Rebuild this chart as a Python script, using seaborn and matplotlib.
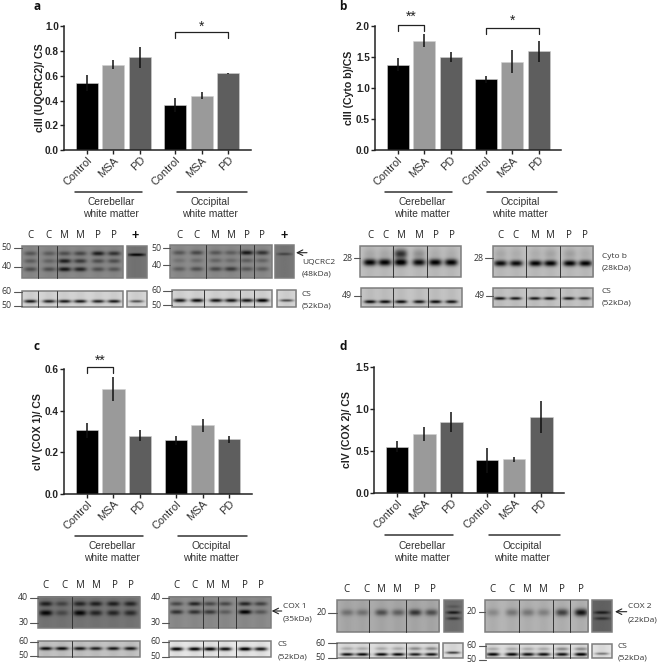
import numpy as np
import pandas as pd
import matplotlib
matplotlib.use('Agg')
import matplotlib.pyplot as plt
import matplotlib.transforms as mtrans
import seaborn as sns

W, H = 658, 664

# bar values
groups = ['Control', 'MSA', 'PD']
bar_pos = [0, 1, 2, 3.33, 4.33, 5.33]
tick_names = groups + groups
colors = ['#000000', '#9a9a9a', '#5e5e5e']

a_vals = [0.54, 0.69, 0.75, 0.365, 0.44, 0.62]
a_err = [0.065, 0.035, 0.085, 0.055, 0.03, 0.005]
b_vals = [1.38, 1.77, 1.51, 1.14, 1.43, 1.60]
b_err = [0.10, 0.10, 0.08, 0.06, 0.18, 0.17]
c_vals = [0.305, 0.505, 0.28, 0.258, 0.33, 0.262]
c_err = [0.037, 0.06, 0.027, 0.022, 0.03, 0.018]
d_vals = [0.55, 0.70, 0.84, 0.385, 0.40, 0.90]
d_err = [0.06, 0.08, 0.12, 0.15, 0.03, 0.19]

# band strength per lane, one row per band
a_gel_l = [[.35, .3, .4, .45, .75, .6], [.3, .25, .75, .55, .4, .4], [.4, .4, .8, .7, .4, .35]]
a_gel_r = [[.35, .45, .35, .3, .8, .6], [.15, .2, .25, .2, .3, .25], [.3, .4, .45, .55, .35, .3]]
a_cs_l = [.85, .8, .85, .85, .8, .85]
a_cs_r = [.85, .9, .85, .85, .85, .98]
b_gel_l = [.95, .95, 1.0, .9, .95, .95]
b_gel_l_smear = [.08, .08, .7, .2, .05, .05]
b_gel_r = [.9, .9, .95, .95, .95, .95]
b_gel_r_smear = [.08, .05, .05, .1, .12, .05]
b_cs_l = [.9, .9, .9, .85, .9, .85]
b_cs_r = [.9, .85, .85, .9, .85, .75]
c_gel_l = [[.7, .4, .65, .7, .7, .65], [.9, .35, .9, .65, .65, .6]]
c_gel_r = [[.45, .7, .45, .45, .7, .5], [.6, .6, .55, .3, .95, .35]]
c_cs_l = [.9, .9, .85, .8, .85, .85]
c_cs_r = [.95, .95, .95, .9, 1.0, .85]
d_gel_l = [.3, .3, .5, .4, .65, .5]
d_gel_r = [.2, .3, .3, .25, .6, .85]
d_cs_l = [.9, .95, .95, .95, .85, .9]
d_cs_r = [.95, .95, .9, .9, .9, 1.0]
d_cs_top = [.2, .2, .2, .2, .35, .35]

sns.set_style('ticks')
plt.rcParams['font.family'] = ['Liberation Sans', 'DejaVu Sans']
fig = plt.figure(figsize=(W / 100, H / 100), dpi=100)

# Prism puts the shorter rotated names further from the axis
name_shift = {'Control': (3, -1), 'MSA': (2, -5), 'PD': (0, -8)}


def bar_panel(vals, errs, ymax, yticks, ylabel, box, label_x, brackets=()):
    left, right, top, bottom = box
    ax = fig.add_axes([left / W, 1 - bottom / H, (right - left) / W, (bottom - top) / H])
    df = pd.DataFrame({'pos': bar_pos, 'value': vals, 'group': tick_names})
    sns.barplot(data=df, x='pos', y='value', hue='group', hue_order=groups, palette=colors,
                native_scale=True, dodge=False, width=0.83, legend=False, ax=ax,
                edgecolor='#d0d0d0', linewidth=0.4)
    ax.errorbar(bar_pos, vals, yerr=errs, fmt='none', ecolor='#111111', elinewidth=1.1, capsize=0)
    ax.set_xlim(-0.85, 6.17)
    ax.set_ylim(0, ymax)
    ax.set_xticks(bar_pos)
    ax.set_xticklabels(tick_names, rotation=45, ha='right', va='top', rotation_mode='anchor',
                       fontsize=7.9, color='#333333')
    for lab in ax.get_xticklabels():
        dx, dy = name_shift[lab.get_text()]
        lab.set_transform(lab.get_transform() + mtrans.Affine2D().translate(dx, dy))
    ax.set_yticks(yticks)
    ax.set_yticklabels([f'{t:.1f}' for t in yticks], fontsize=7.2, fontweight='bold', color='#222222')
    ax.set_xlabel('')
    ax.set_ylabel(ylabel, fontsize=7.6, fontweight='bold', color='#222222', va='center')
    ax.yaxis.set_label_coords((label_x - left) / (right - left), 0.5)
    ax.tick_params(axis='both', length=2.8, width=1.0, color='#222222', pad=0.8)
    sns.despine(ax=ax)
    for s in ['left', 'bottom']:
        ax.spines[s].set_linewidth(1.1)
        ax.spines[s].set_color('#222222')
    for i, j, y_top, drop, stars, star_y in brackets:
        ax.plot([bar_pos[i], bar_pos[i], bar_pos[j], bar_pos[j]], [y_top - drop, y_top, y_top, y_top - drop],
                color='#222222', lw=0.9, clip_on=False)
        ax.text((bar_pos[i] + bar_pos[j]) / 2, star_y, stars, ha='center', va='center', fontsize=10,
                color='#222222', clip_on=False)
    return ax


bar_panel(a_vals, a_err, 1.0, [0, .2, .4, .6, .8, 1.0], 'cIII (UQCRC2)/ CS', (64, 250.7, 26.3, 150), 40,
          [(3, 5, 0.952, 0.045, '*', 1.0)])
bar_panel(b_vals, b_err, 2.0, [0, .5, 1, 1.5, 2.0], 'cIII (Cyto b)/CS', (375, 561, 26.3, 150), 349,
          [(0, 1, 2.02, 0.09, '**', 2.15), (3, 5, 1.97, 0.09, '*', 2.09)])
bar_panel(c_vals, c_err, 0.6, [0, .2, .4, .6], 'cIV (COX 1)/ CS', (64, 251.7, 369.3, 493.7), 38,
          [(0, 1, 0.61, 0.027, '**', 0.64)])
bar_panel(d_vals, d_err, 1.5, [0, .5, 1, 1.5], 'cIV (COX 2)/ CS', (374.3, 564, 366.7, 492.7), 347)

# overlay in picture pixels for gels and labels
ov = fig.add_axes([0, 0, 1, 1], facecolor='none')
ov.set_xlim(0, W)
ov.set_ylim(H, 0)
ov.axis('off')


def blot(box, lanes, rows, strengths, bg, seps=(), hw=6.5, edge='#7d7d7d', haze=0.06):
    x0, x1, y0, y1 = box
    xs = np.linspace(x0, x1, int((x1 - x0) * 2))
    ys = np.linspace(y0, y1, int((y1 - y0) * 2))
    xx, yy = np.meshgrid(xs, ys)
    dark = np.zeros_like(xx)
    for lx in lanes:
        dark += haze * np.exp(-((xx - lx) / hw) ** 2)
    for (frac, sig), row in zip(rows, strengths):
        yc = y0 + frac * (y1 - y0)
        for lx, st in zip(lanes, row):
            dark += st * np.exp(-np.abs((xx - lx) / hw) ** 3) * np.exp(-((yy - yc) / sig) ** 2)
    img = np.clip(bg * (1 - np.clip(dark, 0, 1)), 0, 1)
    ov.imshow(img, extent=(x0, x1, y1, y0), cmap='gray', vmin=0, vmax=1, aspect='auto',
              interpolation='bilinear', zorder=1)
    ov.add_patch(plt.Rectangle((x0, y0), x1 - x0, y1 - y0, fill=False, ec=edge, lw=1.1, zorder=2))
    for s in seps:
        ov.plot([s, s], [y0, y1], color='#333333', lw=0.7, zorder=3)
    ov.set_xlim(0, W)
    ov.set_ylim(H, 0)


def lane_labels(xs, y, names):
    for x, n in zip(xs, names):
        ov.text(x, y, n, ha='center', va='center', fontsize=7, family='Open Sans', color='#222222')


def mw(x_text, x_tick0, x_tick1, y, s):
    ov.text(x_text, y, s, ha='center', va='center', fontsize=6.3, family='Open Sans', color='#333333')
    ov.plot([x_tick0, x_tick1], [y, y], color='#555555', lw=0.8)


def side(x, y, s, size=6):
    ov.text(x, y, s, ha='left', va='center', fontsize=size, family='Open Sans', color='#333333')


def arrow(x0, x1, y):
    ov.annotate('', xy=(x0, y), xytext=(x1, y), arrowprops=dict(arrowstyle='->', color='#222222', lw=0.8,
                                                               shrinkA=0, shrinkB=0))


def group_labels(xa, xb, y_line, y1, y2, ca, cb):
    ov.plot(xa, [y_line, y_line], color='#333333', lw=1.1)
    ov.plot(xb, [y_line, y_line], color='#333333', lw=1.1)
    for c, t in [(ca, 'Cerebellar'), (cb, 'Occipital')]:
        ov.text(c, y1, t, ha='center', va='center', fontsize=7.4, color='#333333')
        ov.text(c, y2, 'white matter', ha='center', va='center', fontsize=7.4, color='#333333')


group_labels((74.7, 142), (177, 246.7), 191.7, 202, 214, 111, 210)
group_labels((385, 451.7), (487, 556.7), 191.7, 202, 214, 421.7, 520)
group_labels((74.7, 142.7), (177.7, 247.3), 535.7, 546, 557.7, 111.7, 210.7)
group_labels((385, 453.3), (489, 559.7), 535, 546, 557.7, 422.3, 522.3)

for x, y, t in [(37, 7, 'a'), (343, 7, 'b'), (37, 347, 'c'), (343, 347, 'd')]:
    ov.text(x, y, t, ha='center', va='center', fontsize=8.5, fontweight='bold', family='Open Sans', color='#111111')

names = ['C', 'C', 'M', 'M', 'P', 'P']

# panel a gels
lanes_al = [30, 48.7, 64.3, 80, 98, 114]
lanes_ar = [179.3, 196.7, 215.7, 231, 246.7, 262.3]
rows3 = [(.23, 2.2), (.47, 2.2), (.73, 2.2)]
lane_labels(lanes_al, 235.7, names)
lane_labels(lanes_ar, 235.7, names)
ov.text(135.5, 235.5, '+', ha='center', va='center', fontsize=9, fontweight='bold', color='#111111')
ov.text(284.5, 235.5, '+', ha='center', va='center', fontsize=9, fontweight='bold', color='#111111')
blot((21.7, 122.7, 246, 278), lanes_al, rows3, a_gel_l, .55, (37.7, 56.7))
blot((127, 146.7, 246, 278), [136.5], [(.27, 1.4)], [[.95]], .47, hw=9)
blot((21.7, 122.7, 290.7, 306.7), lanes_al, [(.65, 1.6)], [a_cs_l], .85, (37.7, 56.7))
blot((127, 146.7, 290.7, 306.7), [136.5], [(.65, 1.3)], [[.6]], .85, hw=7)
blot((170.3, 271.7, 245, 277.7), lanes_ar, rows3, a_gel_r, .56, (205.7, 239.7, 253.7))
blot((275.3, 294, 245, 277.7), [284.5], [(.27, 1.4)], [[.4]], .48, hw=8)
blot((171.7, 271.7, 290, 306.7), lanes_ar, [(.62, 1.8)], [a_cs_r], .85, (204.3, 239.7, 254))
blot((276.7, 296, 290, 306.7), [286], [(.62, 1.3)], [[.6]], .85, hw=7)
mw(7, 14, 21.7, 248, '50')
mw(7, 14, 21.7, 266.7, '40')
mw(7, 14, 21.7, 291.7, '60')
mw(7, 14, 21.7, 306, '50')
mw(156.7, 163, 170.3, 248.3, '50')
mw(156.7, 163, 170.3, 265, '40')
mw(156.7, 163, 171.7, 290.7, '60')
mw(156.7, 163, 171.7, 305.3, '50')
arrow(296, 307, 252.7)
side(302, 262.7, 'UQCRC2')
side(302, 274, '(48kDa)')
side(302, 294, 'CS')
side(302, 306, '(52kDa)')

# panel b gels
lanes_bl = [370, 385, 401, 419.3, 435.7, 451.7]
lanes_br = [500, 515.7, 535, 550, 569.3, 585]
lane_labels(lanes_bl, 235.7, names)
lane_labels(lanes_br, 235.7, names)
blot((360.3, 461.3, 245.7, 276.7), lanes_bl, [(.53, 3.4), (.25, 4.5)], [b_gel_l, b_gel_l_smear], .76, (393.3, 426.7), hw=6.5)
blot((492.7, 593.3, 245.7, 276.7), lanes_br, [(.56, 3.0), (.25, 4.5)], [b_gel_r, b_gel_r_smear], .76, (526.3, 559.7), hw=6.5)
blot((361, 462, 288.3, 306.7), lanes_bl, [(.73, 1.6)], [b_cs_l], .78, (393.3, 427.7), hw=6)
blot((493.3, 593.3, 288.3, 306.7), lanes_br, [(.55, 1.4)], [b_cs_r], .78, (526.3, 560), hw=6)
mw(347.3, 354, 360.3, 258.3, '28')
mw(479, 485, 492.7, 258.3, '28')
mw(347.3, 354, 361, 296, '49')
mw(480, 486, 493.3, 296, '49')
side(601.7, 256.7, 'Cyto b')
side(601.7, 267.7, '(28kDa)')
side(601.7, 291.7, 'CS')
side(601.7, 303.3, '(52kDa)')

# panel c gels
lanes_cl = [46, 62, 80, 96, 113.5, 130.7]
lanes_cr = [176.7, 194.7, 210, 225.3, 245, 260.7]
rows2 = [(.24, 2.4), (.53, 2.8)]
lane_labels([45.7, 64, 80, 96, 114.7, 130.7], 585.7, names)
lane_labels([176.7, 194.7, 210, 225.3, 245, 260.7], 586, names)
blot((38.3, 140, 596.7, 628.3), lanes_cl, rows2, c_gel_l, .47, (72,))
blot((169.3, 270.7, 596.7, 628.3), lanes_cr, [(.24, 2.0), (.5, 2.2)], c_gel_r, .56, (202.7, 218.3, 235.7))
blot((38.3, 140, 641, 656.7), lanes_cl, [(.47, 1.7)], [c_cs_l], .78, (71.7,))
blot((169.3, 270.7, 641, 656.7), lanes_cr, [(.5, 1.8)], [c_cs_r], .92, (202.7, 218.3, 235.7))
mw(23.3, 30, 38.3, 597.7, '40')
mw(23.3, 30, 38.3, 622.7, '30')
mw(23.3, 30, 38.3, 641.7, '60')
mw(23.3, 30, 38.3, 656, '50')
mw(155.7, 162, 169.3, 598, '40')
mw(155.7, 162, 169.3, 622.7, '30')
mw(155.7, 162, 169.3, 641.7, '60')
mw(155.7, 162, 169.3, 656.7, '50')
arrow(271.7, 281.7, 611)
side(282.7, 606, 'COX 1')
side(282.7, 618.7, '(35kDa)')
side(277.7, 645, 'CS')
side(277.7, 656.7, '(52kDa)')

# panel d gels
lanes_dl = [346.7, 362, 381, 397.7, 414.7, 431]
lanes_dr = [492.7, 511.7, 527.7, 543.3, 561.7, 580.7]
lane_labels([346.7, 366, 381, 397.7, 416.7, 432.7], 589, names)
lane_labels([492.7, 511.7, 527.7, 543.3, 561.7, 580.7], 589, names)
blot((336.7, 439.3, 600, 631.7), lanes_dl, [(.39, 3.2)], [d_gel_l], .68, (369.3, 405.7))
blot((444, 462.7, 600, 631.7), [453.3], [(.2, 1.5), (.39, 1.5), (.58, 1.5)], [[.2], [.75], [.5]], .45, hw=7)
blot((485, 588.3, 600, 631.7), lanes_dr, [(.39, 3.6)], [d_gel_r], .72, (519.3, 553.3, 570.3))
blot((592.3, 611.7, 600, 631.7), [602], [(.39, 1.5), (.58, 1.5)], [[.7], [.5]], .4, hw=8)
blot((336.7, 439.3, 643.3, 658.3), lanes_dl, [(.37, 1.6), (.77, 1.5)], [d_cs_top, d_cs_l], .88, (369.3, 405.7))
blot((443.3, 462.7, 643.3, 658.3), [453], [(.65, 1.2)], [[.7]], .88, hw=7)
blot((486, 588.3, 644, 658), lanes_dr, [(.35, 1.6), (.75, 1.7)], [d_cs_top, d_cs_r], .88, (519.3, 553.3, 570.3))
blot((592.3, 611.7, 644, 658), [602], [(.7, 1.2)], [[.45]], .9, hw=7)
mw(321.7, 328, 336.7, 612.7, '20')
mw(321, 328, 336.7, 643.3, '60')
mw(321, 328, 336.7, 658, '50')
mw(471.3, 479, 485, 612, '20')
mw(471.3, 479, 486, 645.5, '60')
mw(471.3, 479, 486, 659.5, '50')
arrow(615, 626.7, 611.7)
side(627.7, 607, 'COX 2')
side(627.7, 620, '(22kDa)')
side(617.7, 646.7, 'CS')
side(617.7, 658, '(52kDa)')

fig.savefig('out.png', dpi=100)
